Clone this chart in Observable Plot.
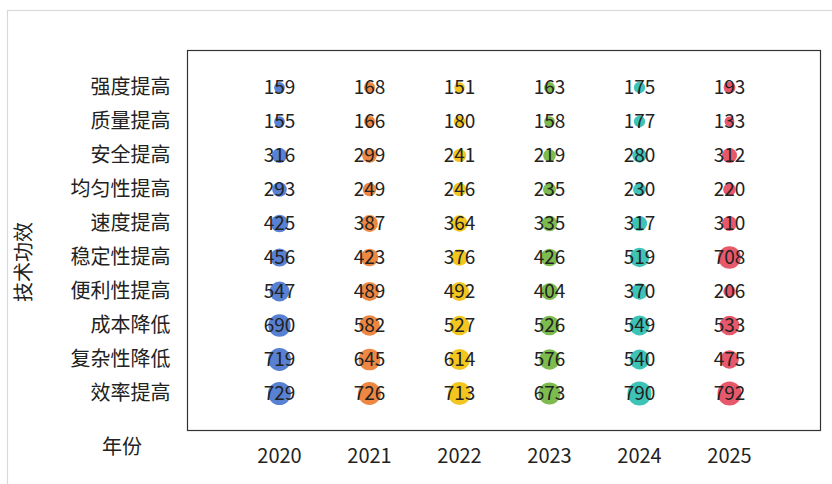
<!DOCTYPE html>
<html>
<head>
<meta charset="utf-8">
<script src="https://cdn.jsdelivr.net/npm/d3@7"></script>
<script src="https://cdn.jsdelivr.net/npm/@observablehq/plot@0.6"></script>
<style>
  html, body { margin: 0; padding: 0; background: #fff; }
  #chart { width: 832px; height: 484px; overflow: hidden; }
</style>
</head>
<body>
<div id="chart"></div>
<script>
const categories = ["强度提高","质量提高","安全提高","均匀性提高","速度提高","稳定性提高","便利性提高","成本降低","复杂性降低","效率提高"];
const years = ["2020","2021","2022","2023","2024","2025"];
const v2020 = [159,155,316,293,425,456,547,690,719,729];
const v2021 = [168,166,299,249,387,423,489,582,645,726];
const v2022 = [151,180,241,246,364,376,492,527,614,713];
const v2023 = [163,158,219,235,335,426,404,526,576,673];
const v2024 = [175,177,280,230,317,519,370,549,540,790];
const v2025 = [193,133,312,220,310,708,206,533,475,792];
const colors = ["#4a76cf","#ed7d31","#f2c10c","#72b540","#2ebfb1","#e64a5e"];
const xLabel = "年份";
const yLabel = "技术功效";

const series = [v2020, v2021, v2022, v2023, v2024, v2025];
const data = [];
years.forEach((y, i) => categories.forEach((c, j) => data.push({year: y, cat: c, value: series[i][j]})));

const font = "'Noto Sans CJK SC', 'Noto Sans', sans-serif";

const svg = Plot.plot({
  width: 832,
  height: 484,
  marginLeft: 187,
  marginRight: 12,
  marginTop: 50,
  marginBottom: 54,
  style: {fontFamily: font, fontSize: "20px", color: "#222", background: "transparent"},
  x: {type: "point", domain: years, padding: 1, label: null, tickSize: 0, tickPadding: 18},
  y: {type: "point", domain: categories, padding: 1, label: null, tickSize: 0, tickPadding: 17},
  r: {domain: [0, 792], range: [0, 12]},
  color: {domain: years, range: colors},
  marks: [
    Plot.frame({stroke: "#333", strokeWidth: 1.2}),
    Plot.dot(data, {x: "year", y: "cat", r: "value", fill: "year", fillOpacity: 0.92, stroke: null}),
    Plot.text(data, {x: "year", y: "cat", text: d => String(d.value), fill: "#222", fontSize: 19})
  ]
});

const s = d3.select(svg);
s.insert("rect", ":first-child")
  .attr("x", 7.5).attr("y", 10.5).attr("width", 900).attr("height", 600)
  .attr("fill", "none").attr("stroke", "#d9d9d9").attr("stroke-width", 1.2);
s.append("text").attr("x", 122).attr("y", 449).attr("text-anchor", "middle")
  .attr("dominant-baseline", "middle").attr("font-size", 20).attr("fill", "#222")
  .attr("font-family", font).text(xLabel);
s.append("text").attr("transform", "translate(26,262) rotate(-90)").attr("text-anchor", "middle")
  .attr("dominant-baseline", "middle").attr("font-size", 20).attr("fill", "#222")
  .attr("font-family", font).text(yLabel);

document.getElementById("chart").appendChild(svg);
</script>
</body>
</html>
